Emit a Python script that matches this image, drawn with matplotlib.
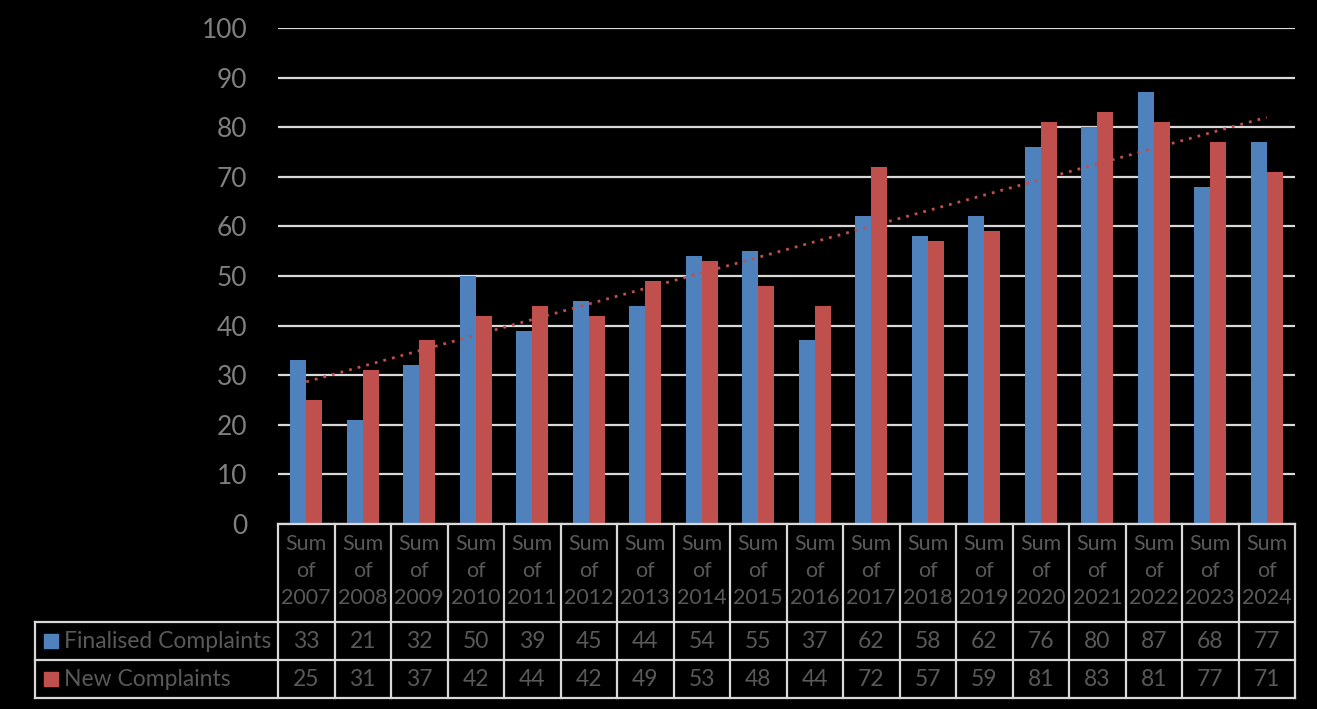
import numpy as np
import matplotlib
matplotlib.use("Agg")
import matplotlib.pyplot as plt

# data
years = ["2007", "2008", "2009", "2010", "2011", "2012", "2013", "2014", "2015",
         "2016", "2017", "2018", "2019", "2020", "2021", "2022", "2023", "2024"]
finalised = [33, 21, 32, 50, 39, 45, 44, 54, 55, 37, 62, 58, 62, 76, 80, 87, 68, 77]
new = [25, 31, 37, 42, 44, 42, 49, 53, 48, 44, 72, 57, 59, 81, 83, 81, 77, 71]
series_names = ["Finalised Complaints", "New Complaints"]
yticks = [0, 10, 20, 30, 40, 50, 60, 70, 80, 90, 100]

blue = "#4F81BD"
red = "#C0504D"
grid_c = "#D9D9D9"
tick_c = "#7F7F7F"
table_c = "#595959"

plt.rcParams['font.family'] = ['Lato', 'DejaVu Sans']

W, H = 1317, 709
fig = plt.figure(figsize=(W / 100, H / 100), dpi=100, facecolor="black")
left, right, top, bottom = 278, 1295, 28, 524
ax = fig.add_axes([left / W, 1 - bottom / H, (right - left) / W, (bottom - top) / H])
ax.set_facecolor("black")

x = np.arange(len(years))
bw = 0.28
ax.bar(x - bw / 2, finalised, bw, color=blue, zorder=3)
ax.bar(x + bw / 2, new, bw, color=red, zorder=3)

# linear trendline on new complaints
k, b = np.polyfit(x, new, 1)
ax.plot(x, k * x + b, color=red, linestyle=(0, (1, 2.2)), linewidth=2, zorder=4)

ax.set_xlim(-0.5, len(years) - 0.5)
ax.set_ylim(0, 100)
ax.set_yticks(yticks)
ax.set_xticks([])
ax.tick_params(axis="y", length=0, labelsize=19, labelcolor=tick_c, pad=22)
ax.grid(axis="y", color=grid_c, linewidth=1.6, zorder=0)
for s in ax.spines.values():
    s.set_visible(False)

# data table drawn below the axes (axes coordinates)
n = len(years)
ph = bottom - top
y_head = -(622 - bottom) / ph
y_r1 = -(660 - bottom) / ph
y_r2 = -(698 - bottom) / ph
x_lab = -(left - 35) / (right - left)
lk = dict(color=grid_c, linewidth=1.6, transform=ax.transAxes, clip_on=False, zorder=5)

ax.plot([0, 1], [0, 0], **lk)
for yy in [y_head, y_r1, y_r2]:
    ax.plot([x_lab, 1], [yy, yy], **lk)
for i in range(n + 1):
    ax.plot([i / n, i / n], [0, y_r2], **lk)
ax.plot([x_lab, x_lab], [y_head, y_r2], **lk)

tk = dict(transform=ax.transAxes, ha="center", va="center", color=table_c)
for i, yr in enumerate(years):
    cx = (i + 0.5) / n
    ax.text(cx, y_head / 2 + 0.004, "Sum\nof\n" + yr, linespacing=1.45, fontsize=15.5, **tk)
    ax.text(cx, (y_head + y_r1) / 2, str(finalised[i]), fontsize=16.5, **tk)
    ax.text(cx, (y_r1 + y_r2) / 2, str(new[i]), fontsize=16.5, **tk)

for name, col, y0, y1 in [(series_names[0], blue, y_head, y_r1), (series_names[1], red, y_r1, y_r2)]:
    ym = (y0 + y1) / 2
    ax.scatter([x_lab + 16 / (right - left)], [ym], marker="s", s=110, color=col,
               transform=ax.transAxes, clip_on=False, zorder=6)
    ax.text(x_lab + 29 / (right - left), ym, name, transform=ax.transAxes, ha="left",
            va="center", color=table_c, fontsize=16.5)

fig.savefig("out.png", dpi=100, facecolor="black")
